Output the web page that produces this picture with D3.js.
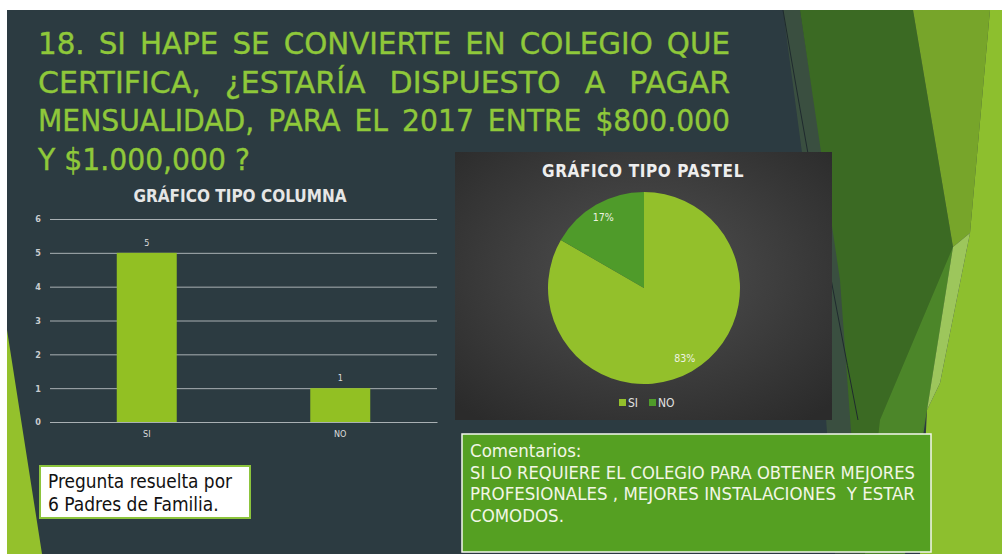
<!DOCTYPE html>
<html>
<head>
<meta charset="utf-8">
<script src="https://cdn.jsdelivr.net/npm/d3@7"></script>
<style>
  html, body { margin: 0; padding: 0; background: #ffffff; }
  svg { display: block; }
  text { white-space: pre; }
</style>
</head>
<body>
<div id="slide"></div>
<script>
// chart data
const categories = ['SI', 'NO'];
const values = [5, 1];
const yTicks = [0, 1, 2, 3, 4, 5, 6];

// slide texts
const titleLines = [
  '18. SI HAPE SE CONVIERTE EN COLEGIO QUE',
  'CERTIFICA, ¿ESTARÍA DISPUESTO A PAGAR',
  'MENSUALIDAD, PARA EL 2017 ENTRE $800.000',
  'Y $1.000,000 ?'
];
const columnTitle = 'GRÁFICO TIPO COLUMNA';
const pieTitle = 'GRÁFICO TIPO PASTEL';
const noteLines = ['Pregunta resuelta por', '6 Padres de Familia.'];
const commentLines = [
  'Comentarios:',
  'SI LO REQUIERE EL COLEGIO PARA OBTENER MEJORES',
  'PROFESIONALES , MEJORES INSTALACIONES  Y ESTAR',
  'COMODOS.'
];

const W = 1002, H = 554;
const FONT = '"DejaVu Sans Condensed", "DejaVu Sans", sans-serif';
const GREEN_TXT = '#8fc83a';

const svg = d3.select('#slide').append('svg')
  .attr('width', W)
  .attr('height', H);

const defs = svg.append('defs');

// squeeze a text element to a given width if it is wider
function fit(sel, width) {
  sel.each(function() {
    if (this.getComputedTextLength() > width) {
      d3.select(this)
        .attr('textLength', width)
        .attr('lengthAdjust', 'spacingAndGlyphs');
    }
  });
}

/* ---------- slide background ---------- */
svg.append('rect')
  .attr('x', 7).attr('y', 10)
  .attr('width', W - 7).attr('height', H - 10)
  .attr('fill', '#2c3b41');

// facets on the right and the sliver on the left
const facets = [
  { fill: '#3e5540', op: 0.8, pts: [[783, 10], [800, 10], [845, 300], [880, 554], [835, 554], [815, 250]] },
  { fill: '#3b6a23', op: 1, pts: [[800, 10], [913, 10], [953, 247], [927, 410], [890, 554], [860, 554], [840, 280]] },
  { fill: '#4f8a2a', op: 0.9, pts: [[953, 247], [927, 410], [905, 554], [865, 554], [880, 420]] },
  { fill: '#77a52a', op: 1, pts: [[913, 10], [990, 10], [970, 233], [953, 247]] },
  { fill: '#8dbf2e', op: 1, pts: [[990, 10], [1002, 10], [1002, 554], [920, 554], [927, 410], [940, 383], [970, 233]] },
  { fill: '#9dc65c', op: 1, pts: [[953, 247], [970, 233], [940, 383], [927, 410]] },
  { fill: '#94c12c', op: 1, pts: [[7, 330], [42, 554], [7, 554]] }
];

svg.append('g')
  .selectAll('polygon')
  .data(facets)
  .join('polygon')
  .attr('points', d => d.pts.map(p => p.join(',')).join(' '))
  .attr('fill', d => d.fill)
  .attr('opacity', d => d.op);

svg.append('path')
  .attr('d', 'M783,10 Q815,200 858,420')
  .attr('fill', 'none')
  .attr('stroke', '#1f2a2e')
  .attr('stroke-width', 1);

/* ---------- title ---------- */
const title = svg.append('g')
  .attr('font-family', '"DejaVu Sans", sans-serif')
  .attr('font-size', 30)
  .attr('fill', GREEN_TXT)
  .attr('stroke', GREEN_TXT)
  .attr('stroke-width', 0.4);

const titleLeft = 38, titleRight = 730, minGap = 14;
titleLines.forEach((line, i) => {
  const y = 54 + i * 38.5;
  const last = i === titleLines.length - 1;
  if (last) {
    // last line is left aligned, kept as one text
    title.append('text')
      .attr('x', titleLeft).attr('y', y)
      .attr('textLength', 212)
      .attr('lengthAdjust', 'spacingAndGlyphs')
      .text(line);
    return;
  }
  const words = line.split(' ');
  const nodes = title.selectAll(null)
    .data(words)
    .join('text')
    .attr('y', y)
    .text(d => d);
  const widths = nodes.nodes().map(n => n.getComputedTextLength());
  const total = d3.sum(widths);
  let gap = (titleRight - titleLeft - total) / (words.length - 1);
  let scale = 1;
  if (gap < minGap) {
    scale = (titleRight - titleLeft - minGap * (words.length - 1)) / total;
    gap = minGap;
  }
  let x = titleLeft;
  nodes.each(function(d, j) {
    const w = widths[j] * scale;
    const t = d3.select(this).attr('x', x);
    if (scale < 1) t.attr('textLength', w).attr('lengthAdjust', 'spacingAndGlyphs');
    x += w + gap;
  });
});

/* ---------- column chart ---------- */
const col = { left: 50, right: 437, top: 219, bottom: 422 };

const x = d3.scaleBand()
  .domain(categories)
  .range([col.left, col.right])
  .paddingInner(0.69)
  .paddingOuter(0.345);

const y = d3.scaleLinear()
  .domain([0, 6])
  .range([col.bottom, col.top]);

const colG = svg.append('g').attr('font-family', FONT);

colG.append('text')
  .attr('x', 240).attr('y', 202)
  .attr('text-anchor', 'middle')
  .attr('font-size', 17)
  .attr('font-weight', 'bold')
  .attr('fill', '#e6e6e6')
  .text(columnTitle)
  .call(fit, 218);

const yAxis = colG.append('g')
  .attr('transform', `translate(${col.left},0)`)
  .call(d3.axisLeft(y)
    .tickValues(yTicks)
    .tickFormat(d3.format('d'))
    .tickSize(-(col.right - col.left))
    .tickPadding(9));
yAxis.select('.domain').remove();
yAxis.selectAll('.tick line').attr('stroke', '#a9b0b3').attr('stroke-width', 1);
yAxis.selectAll('.tick text')
  .attr('fill', '#c9cdd0')
  .attr('font-size', 9)
  .attr('font-weight', 'bold')
  .attr('font-family', FONT);

colG.selectAll('rect.bar')
  .data(values)
  .join('rect')
  .attr('class', 'bar')
  .attr('x', (d, i) => x(categories[i]))
  .attr('y', d => y(d))
  .attr('width', x.bandwidth())
  .attr('height', d => y(0) - y(d))
  .attr('fill', '#92c023');

colG.selectAll('text.val')
  .data(values)
  .join('text')
  .attr('class', 'val')
  .attr('x', (d, i) => x(categories[i]) + x.bandwidth() / 2)
  .attr('y', d => y(d) - 7)
  .attr('text-anchor', 'middle')
  .attr('font-size', 9)
  .attr('fill', '#dcdcdc')
  .text(d => d);

const xAxis = colG.append('g')
  .attr('transform', `translate(0,${col.bottom})`)
  .call(d3.axisBottom(x).tickSize(0).tickPadding(9));
xAxis.select('.domain').attr('stroke', '#a9b0b3');
xAxis.selectAll('.tick text')
  .attr('fill', '#dcdcdc')
  .attr('font-size', 9)
  .attr('font-family', FONT);

/* ---------- pie chart ---------- */
const box = { x: 455, y: 152, w: 377, h: 268 };

const grad = defs.append('radialGradient')
  .attr('id', 'pieBg')
  .attr('cx', '50%').attr('cy', '45%').attr('r', '70%');
grad.append('stop').attr('offset', '0%').attr('stop-color', '#515151');
grad.append('stop').attr('offset', '100%').attr('stop-color', '#2b2b2b');

const pieG = svg.append('g').attr('font-family', FONT);

pieG.append('rect')
  .attr('x', box.x).attr('y', box.y)
  .attr('width', box.w).attr('height', box.h)
  .attr('fill', 'url(#pieBg)');

pieG.append('text')
  .attr('x', 643).attr('y', 177)
  .attr('text-anchor', 'middle')
  .attr('font-size', 17)
  .attr('font-weight', 'bold')
  .attr('fill', '#eeeeee')
  .attr('letter-spacing', 0.6)
  .text(pieTitle)
  .call(fit, 213);

const pieColors = d3.scaleOrdinal().domain(categories).range(['#93c02b', '#4f9b2a']);
const R = 96;
const pie = d3.pie().sort(null).value(d => d.v);
const arcs = pie(categories.map((c, i) => ({ c, v: values[i] })));
const total = d3.sum(values);
const arc = d3.arc().innerRadius(0).outerRadius(R);
const labelArc = d3.arc().innerRadius(R * 0.85).outerRadius(R * 0.85);

const pc = pieG.append('g').attr('transform', 'translate(644,288)');
pc.selectAll('path')
  .data(arcs)
  .join('path')
  .attr('d', arc)
  .attr('fill', d => pieColors(d.data.c));

pc.selectAll('text')
  .data(arcs)
  .join('text')
  .attr('transform', d => `translate(${labelArc.centroid(d)})`)
  .attr('text-anchor', 'middle')
  .attr('dy', '0.35em')
  .attr('font-size', 10.5)
  .attr('fill', '#eef3e2')
  .text(d => Math.round(d.data.v / total * 100) + '%');

const legend = pieG.append('g')
  .selectAll('g')
  .data(categories)
  .join('g')
  .attr('transform', (d, i) => `translate(${619 + i * 30},403)`);
legend.append('rect')
  .attr('x', 0).attr('y', -4)
  .attr('width', 7).attr('height', 7)
  .attr('fill', d => pieColors(d));
legend.append('text')
  .attr('x', 9).attr('dy', '0.35em')
  .attr('font-size', 12)
  .attr('fill', '#e0e0e0')
  .text(d => d);

/* ---------- text boxes ---------- */
const note = svg.append('g').attr('font-family', FONT);
note.append('rect')
  .attr('x', 40).attr('y', 466)
  .attr('width', 210).attr('height', 52)
  .attr('fill', '#ffffff')
  .attr('stroke', '#8cc43c')
  .attr('stroke-width', 2);
note.selectAll('text')
  .data(noteLines)
  .join('text')
  .attr('x', 48)
  .attr('y', (d, i) => 488 + i * 23)
  .attr('font-size', 19)
  .attr('fill', '#111111')
  .text(d => d)
  .call(fit, 184);

const comment = svg.append('g').attr('font-family', FONT);
comment.append('rect')
  .attr('x', 462).attr('y', 434)
  .attr('width', 469).attr('height', 118)
  .attr('fill', '#55a022')
  .attr('stroke', '#f4f7ee')
  .attr('stroke-width', 1.5);
comment.selectAll('text')
  .data(commentLines)
  .join('text')
  .attr('x', 470)
  .attr('y', (d, i) => 457 + i * 21.5)
  .attr('font-size', 18.5)
  .attr('fill', '#f2f6e6')
  .text(d => d)
  .call(fit, 445);
</script>
</body>
</html>
